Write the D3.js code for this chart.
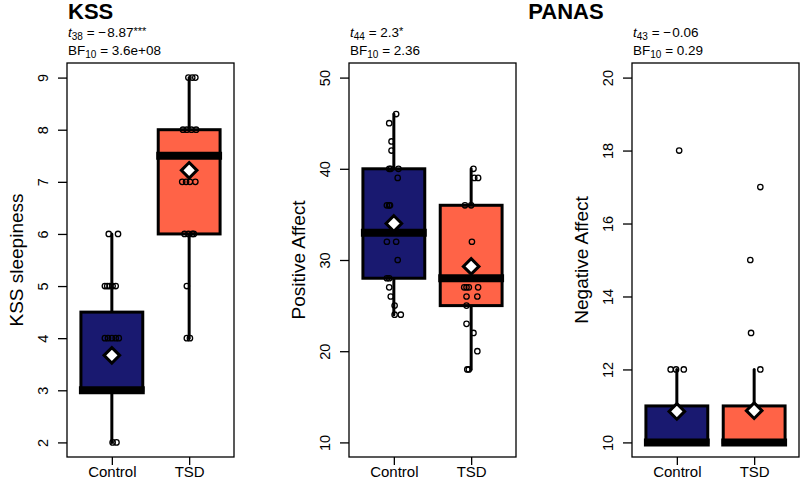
<!DOCTYPE html>
<html><head><meta charset="utf-8">
<script src="https://cdn.jsdelivr.net/npm/d3@7"></script>
<style>body{margin:0;background:#fff} text{font-family:"Liberation Sans",Arial,Helvetica,sans-serif;fill:#000}</style>
</head><body><svg id="c" width="800" height="494"></svg>
<script>
// ---------- data ----------
const groups = ["Control", "TSD"];
const yLabels = ["KSS sleepiness", "Positive Affect", "Negative Affect"];
const yTicksKSS = [2, 3, 4, 5, 6, 7, 8, 9];
const yTicksPos = [10, 20, 30, 40, 50];
const yTicksNeg = [10, 12, 14, 16, 18, 20];
const yLims = [[2, 9], [10, 50], [10, 20]];
// box statistics, each entry [Control, TSD]
const q1 = [[3, 6], [28, 25], [10, 10]];
const medians = [[3, 7.5], [33, 28], [10, 10]];
const q3 = [[4.5, 8], [40, 36], [11, 11]];
const whiskLo = [[2, 4], [24, 18], [10, 10]];
const whiskHi = [[6, 9], [46, 40], [12, 12]];
const means = [[3.67, 7.22], [34.0, 29.3], [10.85, 10.87]];
// individual observations and their horizontal jitter (category units)
const kssControl = [6, 6, 5, 5, 5, 5, 5, 4, 4, 4, 4, 4, 3, 3, 3, 3, 3, 3, 2, 2];
const kssControlJit = [-0.04, 0.08, -0.09, -0.06, -0.03, 0.01, 0.05, -0.09, -0.05, 0, 0.05, 0.09, -0.06, -0.03, 0, 0.03, 0.05, -0.01, 0.01, 0.06];
const kssTSD = [9, 9, 9, 8, 8, 8, 8, 7, 7, 7, 7, 6, 6, 6, 6, 5, 4, 4];
const kssTSDJit = [-0.01, 0.04, 0.08, -0.08, -0.03, 0.03, 0.09, -0.09, -0.04, 0.01, 0.08, -0.06, -0.01, 0.04, 0.06, -0.03, -0.03, 0.01];
const posControl = [46, 45, 43, 42, 40, 40, 40, 39, 36, 36, 36, 32, 32, 30, 28, 28, 27, 26, 25, 24, 24];
const posControlJit = [0.03, -0.06, -0.03, -0.03, -0.06, -0.04, 0.06, 0.05, -0.09, -0.06, -0.05, -0.09, 0.03, 0.05, -0.09, -0.06, -0.06, -0.04, 0.01, 0.01, 0.09];
const posTSD = [40, 39, 39, 36, 36, 32, 27, 27, 27, 27, 26, 26, 25, 23, 22, 20, 18, 18];
const posTSDJit = [0.03, 0.04, 0.09, -0.08, 0, 0.01, -0.09, -0.06, -0.03, 0.09, -0.06, 0.08, -0.06, -0.06, 0.03, 0.08, -0.05, -0.03];
const negControl = [18, 12, 12, 12, 10, 10, 10, 10, 10, 10];
const negControlJit = [0.03, -0.08, -0.01, 0.09, -0.05, -0.02, 0, 0.02, 0.05, 0.07];
const negTSD = [17, 15, 13, 12, 10, 10, 10, 10, 10, 10];
const negTSDJit = [0.08, -0.05, -0.04, 0.08, -0.05, -0.02, 0, 0.02, 0.05, 0.07];
// test annotations
const testDf = ["38", "44", "43"];
const testT = ["\u2212\u200A8.87", "2.3", "\u2212\u200A0.06"];
const testStars = ["***", "*", ""];
const bf10 = ["3.6e+08", "2.36", "0.29"];
const titles = ["KSS", "PANAS"];

// ---------- drawing ----------
const colors = ["#191970", "#FF6347"];
const svg = d3.select("#c");
const frameLeft = [67, 349, 632], frameW = 167, plotTop = 63, plotBottom = 457;
const yTicks = [yTicksKSS, yTicksPos, yTicksNeg];
const obs = [[kssControl, kssTSD], [posControl, posTSD], [negControl, negTSD]];
const jit = [[kssControlJit, kssTSDJit], [posControlJit, posTSDJit], [negControlJit, negTSDJit]];
const FONT = '"Liberation Sans",Arial,sans-serif';

for (let i = 0; i < 3; i++) {
  const L = frameLeft[i];
  const x = d3.scaleLinear().domain([0.42, 2.58]).range([L, L + frameW]);
  const pad = (yLims[i][1] - yLims[i][0]) * 0.04;
  const y = d3.scaleLinear().domain([yLims[i][0] - pad, yLims[i][1] + pad]).range([plotBottom, plotTop]);
  const g = svg.append("g");
  const bw = x(1.4) - x(1);

  groups.forEach((grp, k) => {
    const cx = x(k + 1);
    g.append("line").attr("x1", cx).attr("x2", cx).attr("y1", y(q3[i][k])).attr("y2", y(whiskHi[i][k]))
      .attr("stroke", "#000").attr("stroke-width", 3).attr("stroke-linecap", "round");
    g.append("line").attr("x1", cx).attr("x2", cx).attr("y1", y(q1[i][k])).attr("y2", y(whiskLo[i][k]))
      .attr("stroke", "#000").attr("stroke-width", 3).attr("stroke-linecap", "round");
    g.append("rect").attr("x", cx - bw).attr("width", 2 * bw)
      .attr("y", y(q3[i][k])).attr("height", y(q1[i][k]) - y(q3[i][k]))
      .attr("fill", colors[k]).attr("stroke", "#000").attr("stroke-width", 3);
    g.append("line").attr("x1", cx - bw - 2).attr("x2", cx + bw + 2)
      .attr("y1", y(medians[i][k])).attr("y2", y(medians[i][k]))
      .attr("stroke", "#000").attr("stroke-width", 8);
    g.selectAll(null).data(obs[i][k]).enter().append("circle")
      .attr("cx", (d, j) => x(k + 1 + jit[i][k][j]))
      .attr("cy", d => y(d)).attr("r", 2.7)
      .attr("fill", "none").attr("stroke", "#000").attr("stroke-width", 1.3);
    const my = y(means[i][k]), s = 7.8;
    g.append("path").attr("d", `M${cx},${my - s}L${cx + s},${my}L${cx},${my + s}L${cx - s},${my}Z`)
      .attr("fill", "#fff").attr("stroke", "#000").attr("stroke-width", 3).attr("stroke-linejoin", "miter");
  });

  g.append("rect").attr("x", L).attr("y", plotTop).attr("width", frameW).attr("height", plotBottom - plotTop)
    .attr("fill", "none").attr("stroke", "#000").attr("stroke-width", 1.3);

  const ya = g.append("g").attr("transform", `translate(${L},0)`)
    .call(d3.axisLeft(y).tickValues(yTicks[i]).tickSize(9).tickFormat(d3.format("d")));
  ya.select(".domain").remove();
  ya.selectAll(".tick line").attr("stroke", "#000").attr("stroke-width", 1.3);
  ya.selectAll(".tick text").attr("x", null).attr("dy", null)
    .attr("transform", "translate(-19,0) rotate(-90)")
    .attr("text-anchor", "middle").style("font-size", "14.5px").style("font-family", FONT);

  const xa = g.append("g").attr("transform", `translate(0,${plotBottom})`)
    .call(d3.axisBottom(x).tickValues([1, 2]).tickSize(8).tickFormat(d => groups[d - 1]));
  xa.select(".domain").remove();
  xa.selectAll(".tick line").attr("stroke", "#000").attr("stroke-width", 1.3);
  xa.selectAll(".tick text").attr("y", 9).attr("dy", "0.71em")
    .style("font-size", "15px").style("font-family", FONT);

  g.append("text").attr("transform", `translate(${L - 44},${(plotTop + plotBottom) / 2}) rotate(-90)`)
    .attr("text-anchor", "middle").style("font-size", "19px").text(yLabels[i]);

  const t1 = g.append("text").attr("x", L + 1).attr("y", 37).style("font-size", "13.5px");
  t1.append("tspan").style("font-style", "italic").text("t");
  t1.append("tspan").attr("dy", 3).style("font-size", "10px").text(testDf[i]);
  t1.append("tspan").attr("dy", -3).text(" = " + testT[i]);
  if (testStars[i]) t1.append("tspan").attr("dy", -2).style("font-size", "11px").text(testStars[i]);
  const t2 = g.append("text").attr("x", L + 1).attr("y", 55).style("font-size", "13.5px");
  t2.append("tspan").text("BF");
  t2.append("tspan").attr("dy", 3).style("font-size", "10px").text("10");
  t2.append("tspan").attr("dy", -3).text(" = " + bf10[i]);
}

svg.append("text").attr("x", 68).attr("y", 19).style("font-size", "22px").style("font-weight", "bold").text(titles[0]);
svg.append("text").attr("x", 566).attr("y", 19).attr("text-anchor", "middle").style("font-size", "22px").style("font-weight", "bold").text(titles[1]);
</script></body></html>
